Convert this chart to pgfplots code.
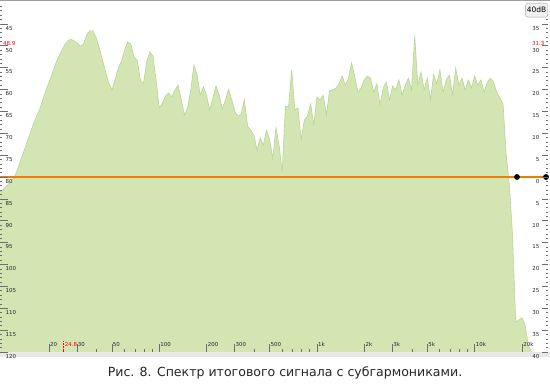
\documentclass[border=0pt]{standalone}
\usepackage{pgfplots}
\pgfplotsset{compat=1.18}
\usepackage{pgfplotstable}
\usepackage{fontspec}
\setmainfont{DejaVu Sans}
\definecolor{specfill}{RGB}{211,229,179}
\definecolor{specline}{RGB}{186,213,148}
\definecolor{orangeline}{RGB}{240,125,0}
\definecolor{tickgray}{RGB}{110,110,110}

\pgfplotstableread{
f db
9.779 -120
9.779 -83.4
10.00 -83.2
10.47 -82.5
10.96 -81.8
11.48 -80.9
12.02 -80.2
12.59 -78.4
13.18 -76.3
13.80 -74.3
14.45 -72.2
15.14 -70.2
15.85 -68.1
16.60 -66.3
17.38 -64.7
18.20 -62.6
19.05 -60.3
19.95 -58.5
20.89 -56.5
21.88 -54.4
22.91 -52.6
23.99 -51.2
25.12 -49.8
26.30 -48.9
27.54 -48.5
28.84 -48.9
30.20 -49.4
31.62 -50.1
33.11 -49.6
34.67 -47.5
36.31 -46.6
38.02 -46.6
39.81 -48.2
41.69 -50.5
43.65 -53.3
45.71 -56.0
47.86 -58.5
50.12 -60.1
52.48 -57.8
54.95 -55.1
57.54 -53.7
60.26 -51.0
63.10 -49.1
66.07 -49.6
69.18 -52.6
72.44 -53.3
75.86 -57.8
79.43 -58.7
83.18 -53.7
87.10 -51.4
91.20 -52.3
95.50 -57.8
100.0 -64.2
104.7 -63.1
109.6 -61.5
114.8 -60.8
120.2 -61.7
125.9 -60.1
131.8 -59.0
138.0 -62.4
144.5 -65.8
151.4 -64.2
158.5 -60.1
166.0 -54.4
173.8 -56.7
182.0 -61.3
190.5 -59.4
199.5 -61.3
208.9 -64.7
218.8 -61.9
229.1 -59.2
239.9 -61.3
251.2 -64.5
263.0 -62.4
275.4 -59.9
288.4 -62.4
302.0 -65.1
316.2 -66.1
331.1 -65.6
346.7 -62.4
363.1 -68.3
380.2 -69.3
398.1 -70.4
416.9 -73.8
436.5 -71.1
457.1 -72.7
478.6 -69.3
501.2 -71.5
524.8 -75.7
549.5 -68.8
575.4 -72.7
602.6 -78.9
631.0 -63.8
660.7 -64.0
691.8 -55.5
724.4 -64.7
758.6 -64.2
794.3 -71.5
831.8 -67.0
871.0 -66.1
912.0 -63.3
955.0 -68.1
1000 -61.7
1047 -62.4
1096 -61.3
1148 -65.8
1202 -60.3
1259 -60.1
1318 -59.7
1380 -58.7
1445 -56.9
1514 -59.0
1585 -57.4
1660 -53.9
1738 -57.1
1820 -60.6
1905 -59.7
1995 -57.8
2089 -56.9
2188 -57.4
2291 -60.6
2399 -58.7
2512 -63.5
2630 -59.7
2754 -58.3
2884 -62.4
3020 -59.2
3162 -60.1
3311 -57.8
3467 -61.3
3631 -59.0
3802 -57.4
3981 -60.1
4169 -47.8
4365 -59.0
4571 -56.0
4786 -60.1
5012 -57.4
5248 -62.4
5495 -56.5
5754 -58.7
6026 -55.5
6310 -60.6
6607 -57.8
6918 -56.7
7244 -61.3
7586 -55.1
7943 -59.0
8318 -57.4
8710 -60.1
9120 -57.8
9550 -59.7
10000 -56.9
10470 -59.0
10960 -57.8
11480 -60.6
12020 -58.3
12590 -57.4
13180 -58.3
13800 -60.6
14450 -61.9
15140 -63.3
15850 -74.8
16600 -81.8
17380 -93.0
18200 -113.1
19050 -112.7
19950 -112.2
20890 -113.8
21880 -118.4
22910 -120
}\spec

\begin{document}
\begin{tikzpicture}[x=1bp,y=1bp]
\useasboundingbox (0,0) rectangle (550,385);
\fill[white] (0,0) rectangle (550,385);
\fill[black!9] (0,28) rectangle (550,33);
\begin{axis}[at={(0bp,383bp)}, anchor=north west, scale only axis,
  width=548bp, height=350bp,
  xmode=log, xmin=9.779, xmax=29200, ymin=-120, ymax=-40,
  axis line style={draw=none}, clip=false, axis on top,
  tick align=inside, xtick pos=bottom, ytick pos=left,
  xtick={20,30,50,100,200,300,500,1000,2000,3000,5000,10000,20000},
  xticklabels={20,30,50,100,200,300,500,1k,2k,3k,5k,10k,20k},
  minor xtick={40,60,70,80,90,400,600,700,800,900,4000,6000,7000,8000,9000},
  ytick={-45,-50,...,-120},
  yticklabels={45,50,55,60,65,70,75,80,85,90,95,100,105,110,115,120},
  minor ytick={-119,-118,...,-41},
  major tick length=8bp, minor tick length=2.5bp,
  tick style={tickgray, line width=0.5bp},
  tick label style={font=\fontsize{5.5}{6}\selectfont, text=black!85, inner sep=0.5bp},
  xticklabel style={anchor=south west, yshift=4.5bp, xshift=0.5bp},
  yticklabel style={anchor=north west, xshift=5bp, yshift=-1.5bp},
]
\addplot[draw=none, fill=specfill] table[x=f,y=db] {\spec};
\addplot[color=specline, line width=0.6bp, skip coords between index={0}{1}] table[x=f,y=db] {\spec};
\addplot[color=orangeline, line width=1.7bp, mark=*, mark size=2bp,
  mark options={fill=black, draw=black}, mark indices={2,3}]
  coordinates {(9.779,-80) (18560,-80) (28350,-80)};
\draw[red, densely dotted, line width=0.5bp] (axis cs:24.8,-120) -- (axis cs:24.8,-117.6);
\node[red, font=\fontsize{5.5}{6}\selectfont, anchor=south west, inner sep=0.5bp]
  at ([yshift=4.5bp,xshift=0.5bp]axis cs:24.8,-120) {24.8};
\node[red, font=\fontsize{5.5}{6}\selectfont, anchor=west, inner sep=0.5bp]
  at ([xshift=2.5bp]axis cs:9.779,-49.4) {48.9};
\node[red, font=\fontsize{5.5}{6}\selectfont, anchor=east, inner sep=0.5bp]
  at ([xshift=-3bp]axis cs:29200,-49.4) {31.3};
\end{axis}
\begin{axis}[at={(0bp,383bp)}, anchor=north west, scale only axis,
  width=548bp, height=350bp,
  xmode=log, xmin=9.779, xmax=29200, ymin=-120, ymax=-40,
  axis line style={draw=none}, clip=false,
  xtick=\empty, tick align=inside, ytick pos=right, yticklabel pos=right,
  ytick={-45,-50,...,-120},
  yticklabels={35,30,25,20,15,10,5,0,5,10,15,20,25,30,35,40},
  minor ytick={-119,-118,...,-41},
  major tick length=6bp, minor tick length=2.5bp,
  tick style={tickgray, line width=0.5bp},
  tick label style={font=\fontsize{5.5}{6}\selectfont, text=black!85, inner sep=0.5bp},
  yticklabel style={anchor=north east, xshift=-8bp, yshift=-1.5bp},
]
\end{axis}
\draw[black!38, line width=1.4bp] (0,384.3) -- (550,384.3);
\node[draw=black!35, fill=black!6, rounded corners=2.5bp, anchor=north east,
  font=\fontsize{7.5}{8}\selectfont, inner xsep=1.5bp, inner ysep=0pt,
  minimum height=14bp] at (548,382) {40dB};
\node[font=\fontsize{12.6}{14}\selectfont, text=black!85] at (285,12)
  {Рис. 8. Спектр итогового сигнала с субгармониками.};
\end{tikzpicture}
\end{document}
